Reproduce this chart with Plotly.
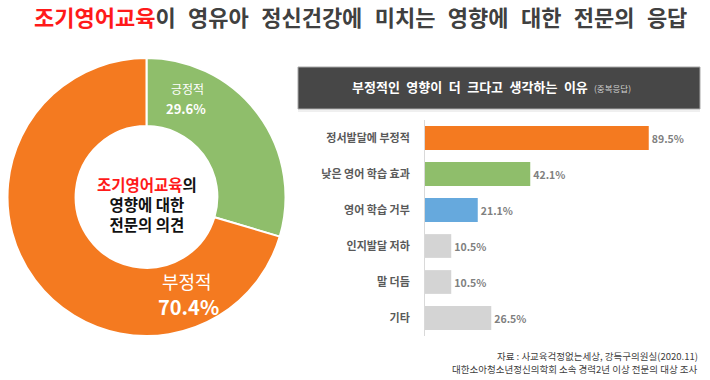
import plotly.graph_objects as go

W, H = 710, 380
FONT = "Noto Sans CJK KR"

# ---- data ----
pie_labels = ["긍정적", "부정적"]
pie_values = [29.6, 70.4]
pie_colors = ["#8FBE6B", "#F47A20"]

bar_categories = ["정서발달에 부정적", "낮은 영어 학습 효과", "영어 학습 거부", "인지발달 저하", "말 더듬", "기타"]
bar_values = [89.5, 42.1, 21.1, 10.5, 10.5, 26.5]
bar_colors = ["#F47A20", "#8FBE6B", "#66A9DD", "#D4D4D4", "#D4D4D4", "#D4D4D4"]

title_red = "조기영어교육"
title_rest = "이 영유아 정신건강에 미치는 영향에 대한 전문의 응답"
center_lines = ["<span style='color:#FF1A1A'>조기영어교육</span>의", "영향에 대한", "전문의 의견"]
panel_title = "부정적인 영향이 더 크다고 생각하는 이유"
panel_note = "(중복응답)"
source_lines = ["자료 : 사교육걱정없는세상, 강득구의원실(2020.11)",
                "대한소아청소년정신의학회 소속 경력2년 이상 전문의 대상 조사"]


def px(x):
    return x / W


def py(y):
    return 1 - y / H


def wide(s, sp="\u2002"):
    return s.replace(" ", sp)


fig = go.Figure()

fig.add_trace(go.Pie(
    labels=pie_labels, values=pie_values, sort=False, direction="clockwise",
    rotation=0, hole=0.51, textinfo="none", hoverinfo="skip",
    marker=dict(colors=pie_colors, line=dict(color="white", width=2)),
    domain=dict(x=[px(6), px(287)], y=[py(336), py(58)]),
    showlegend=False,
))

fig.add_trace(go.Bar(
    x=bar_values, y=bar_categories, orientation="h",
    marker=dict(color=bar_colors, line=dict(width=0)),
    width=0.66,
    text=[f"{v}%" for v in bar_values], textposition="outside",
    textfont=dict(family=FONT, size=10.5, color="#808080", weight="bold"),
    cliponaxis=False, hoverinfo="skip", showlegend=False,
    xaxis="x", yaxis="y",
))

fig.update_layout(
    width=W, height=H, margin=dict(l=0, r=0, t=0, b=0),
    paper_bgcolor="white", plot_bgcolor="white",
    font=dict(family=FONT),
    xaxis=dict(domain=[px(425), px(700)], range=[0, 110], visible=False, fixedrange=True),
    yaxis=dict(domain=[py(336), py(120)], categoryorder="array", categoryarray=bar_categories,
               autorange="reversed", showline=True, linecolor="#D9D9D9", linewidth=1,
               showgrid=False, ticks="", ticklabelstandoff=12,
               tickfont=dict(family=FONT, size=11, color="#595959", weight="bold")),
    bargap=0.34,
)

shapes = [
    dict(type="rect", xref="paper", yref="paper", x0=px(298), x1=px(700), y0=py(109), y1=py(67),
         fillcolor="#474747", line=dict(color="#A8A8A8", width=1)),
    dict(type="line", xref="paper", yref="paper", x0=px(298), x1=px(700), y0=py(111), y1=py(111),
         line=dict(color="#E0E0E0", width=1)),
]
fig.update_layout(shapes=shapes)


def note(x, y, text, size, color, xanchor="center", weight="normal"):
    return dict(x=px(x), y=py(y), xref="paper", yref="paper", showarrow=False,
                xanchor=xanchor, yanchor="middle", text=text,
                font=dict(family=FONT, size=size, color=color, weight=weight))


ann = []
ann.append(note(360, 16, f"<span style='color:#FF1A1A'>{title_red}</span>{wide(title_rest, chr(0x2002) + chr(0x200A))}",
                22, "#404040", weight="bold"))
# pie labels
ann.append(note(187, 89, pie_labels[0], 12, "white"))
ann.append(note(186, 108, f"{pie_values[0]}%", 13, "white", weight="bold"))
ann.append(note(187, 281, pie_labels[1], 18, "white"))
ann.append(note(188, 306, f"{pie_values[1]}%", 20, "white", weight="bold"))
# center text
ann.append(note(147, 204, "<br>".join(center_lines), 15.5, "#111111", weight="bold"))
# panel header
ann.append(note(590, 87, wide(panel_title), 13, "white", xanchor="right", weight="bold"))
ann.append(note(592, 88, panel_note, 8.5, "#CFCFCF", xanchor="left"))
# source
for line, yy in zip(source_lines, [356, 369]):
    ann.append(note(700, yy, line, 9.5, "#404040", xanchor="right"))

fig.update_layout(annotations=ann)

fig.write_html("out.html", config={"displayModeBar": False},
               post_script="document.body.style.margin='0';")
